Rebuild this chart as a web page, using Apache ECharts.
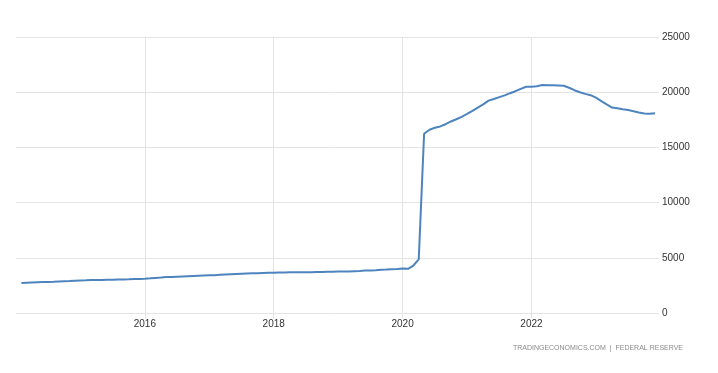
<!DOCTYPE html>
<html><head><meta charset="utf-8">
<script src="https://cdn.jsdelivr.net/npm/echarts@6/dist/echarts.min.js"></script>
<style>html,body{margin:0;padding:0;background:#fff}#c{width:718px;height:373px}</style>
</head><body><div id="c"></div>
<script>
// Monthly values, Jan 2014 .. Dec 2023 (Jan 2014 has no data point)
const values2014 = [null, 2720, 2740, 2760, 2780, 2800, 2810, 2820, 2850, 2880, 2900, 2930];
const values2015 = [2950, 2960, 2980, 2990, 3000, 3010, 3020, 3030, 3040, 3050, 3070, 3090];
const values2016 = [3110, 3140, 3180, 3210, 3250, 3270, 3290, 3310, 3330, 3350, 3370, 3390];
const values2017 = [3410, 3430, 3460, 3490, 3510, 3530, 3550, 3570, 3590, 3610, 3630, 3640];
const values2018 = [3650, 3660, 3670, 3680, 3690, 3690, 3700, 3700, 3710, 3720, 3730, 3740];
const values2019 = [3750, 3760, 3770, 3790, 3810, 3840, 3860, 3880, 3910, 3930, 3960, 3990];
const values2020 = [4040, 4000, 4300, 4850, 16240, 16600, 16780, 16900, 17100, 17350, 17550, 17770];
const values2021 = [18030, 18300, 18600, 18900, 19240, 19390, 19550, 19710, 19910, 20090, 20300, 20490];
const values2022 = [20500, 20540, 20650, 20640, 20620, 20600, 20580, 20400, 20180, 20000, 19850, 19730];
const values2023 = [19500, 19200, 18900, 18610, 18540, 18460, 18390, 18280, 18170, 18080, 18040, 18090];
const years = [2014, 2015, 2016, 2017, 2018, 2019, 2020, 2021, 2022, 2023];
const yearLabels = ['2016', '2018', '2020', '2022'];
const yTicks = [0, 5000, 10000, 15000, 20000, 25000];
const sourceText = 'TRADINGECONOMICS.COM  |  FEDERAL RESERVE';

const allValues = [values2014, values2015, values2016, values2017, values2018, values2019, values2020, values2021, values2022, values2023];
const categories = [];
const data = [];
years.forEach((y, i) => {
  for (let m = 1; m <= 12; m++) {
    categories.push(y + '-' + String(m).padStart(2, '0'));
    const v = allValues[i][m - 1];
    data.push(v === null ? '-' : v);
  }
});
const isLabelCat = (idx) => {
  const c = categories[idx];
  return c.endsWith('-01') && yearLabels.includes(c.slice(0, 4));
};
const gridColor = '#e4e4e4';
const chart = echarts.init(document.getElementById('c'), null, {renderer: 'canvas'});
chart.setOption({
  animation: false,
  backgroundColor: '#ffffff',
  grid: {left: 16, right: 63, top: 37, bottom: 60, containLabel: false},
  xAxis: {
    type: 'category',
    data: categories,
    boundaryGap: false,
    axisLine: {show: false},
    axisTick: {show: true, length: 5, lineStyle: {color: gridColor}, interval: (i) => isLabelCat(i)},
    axisLabel: {
      interval: (i) => isLabelCat(i),
      formatter: (v) => v.slice(0, 4),
      color: '#333', fontSize: 10, fontFamily: 'Arial, Liberation Sans, sans-serif', margin: 6
    },
    splitLine: {show: true, interval: (i) => isLabelCat(i), lineStyle: {color: gridColor, width: 1}}
  },
  yAxis: {
    type: 'value',
    position: 'right',
    min: yTicks[0], max: yTicks[yTicks.length - 1], interval: 5000,
    axisLine: {show: false},
    axisTick: {show: true, length: 4, lineStyle: {color: gridColor}},
    axisLabel: {color: '#333', fontSize: 10, fontFamily: 'Arial, Liberation Sans, sans-serif', margin: 7, align: 'left',
      formatter: (v) => String(v)},
    splitLine: {show: true, lineStyle: {color: gridColor, width: 1}}
  },
  series: [{
    type: 'line',
    data: data,
    showSymbol: false,
    symbol: 'none',
    connectNulls: false,
    lineStyle: {color: '#4d84be', width: 2},
    itemStyle: {color: '#4d84be'}
  }],
  graphic: [{
    type: 'text',
    right: 35, top: 345,
    style: {text: sourceText, fill: '#8a8a8a', font: '7px Arial, Liberation Sans, sans-serif'}
  }]
});
</script></body></html>
